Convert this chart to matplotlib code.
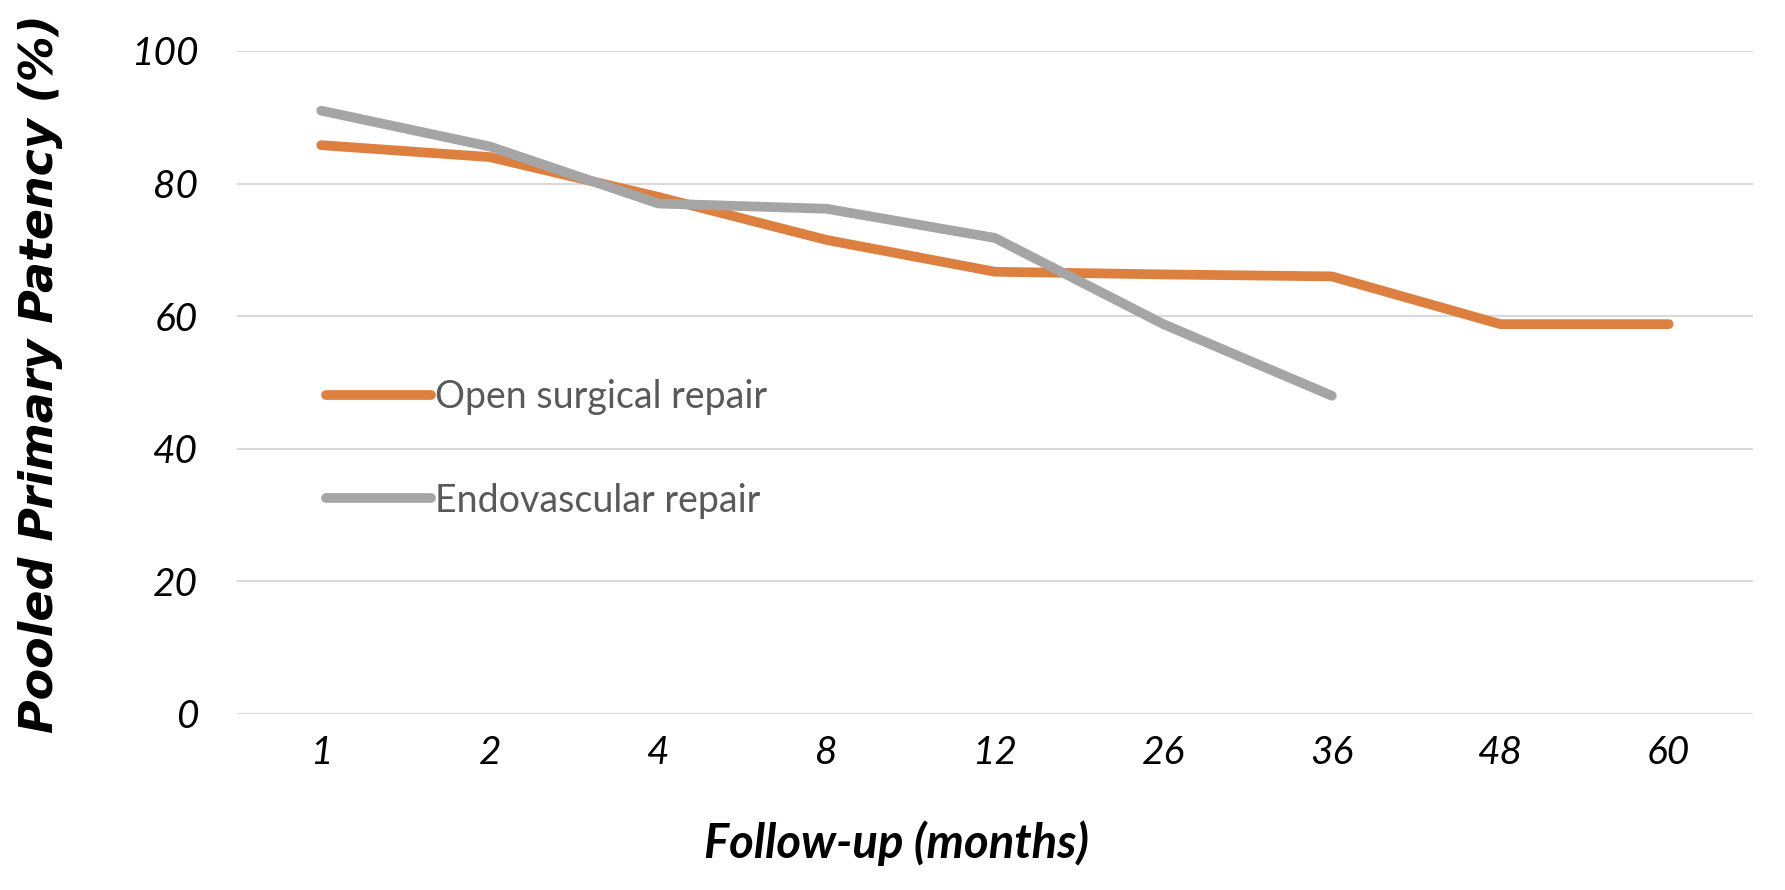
import numpy as np
import matplotlib.pyplot as plt

# Data
months = ['1', '2', '4', '8', '12', '26', '36', '48', '60']
open_repair = [85.8, 84.0, 78.0, 71.5, 66.7, 66.3, 66.0, 58.8, 58.8]
endo_repair = [91.0, 85.6, 77.0, 76.2, 71.8, 58.8, 48.0, np.nan, np.nan]
yticks = [0, 20, 40, 60, 80, 100]

orange = '#DC7F3F'
grey = '#A5A5A5'
narrow = ['Lato', 'DejaVu Sans']

fig = plt.figure(figsize=(17.85, 8.9), dpi=100)
ax = fig.add_axes([0.1328, 0.1978, 0.8492, 0.7449])

x = np.arange(len(months))
ax.plot(x, open_repair, color=orange, lw=7, solid_capstyle='round',
        solid_joinstyle='round', label='Open surgical repair')
ax.plot(x, endo_repair, color=grey, lw=7, solid_capstyle='round',
        solid_joinstyle='round', label='Endovascular repair')

ax.set_xlim(-0.5, len(months) - 0.5)
ax.set_ylim(0, 100)
ax.set_xticks(x)
ax.set_xticklabels(months, fontstyle='italic', family=narrow, fontsize=28)
ax.set_yticks(yticks)
ax.set_yticklabels([str(v) for v in yticks], fontstyle='italic', family=narrow, fontsize=28)
ax.tick_params(axis='x', length=0, pad=15)
ax.tick_params(axis='y', length=0, pad=28)

ax.grid(axis='y', color='#D9D9D9', lw=1.5)
ax.set_axisbelow(True)
for s in ax.spines.values():
    s.set_visible(False)

ax.set_xlabel('Follow-up (months)', fontsize=34, fontweight='bold',
              fontstyle='italic', family=narrow)
ax.xaxis.set_label_coords(0.435, -0.16)
ax.set_ylabel('Pooled Primary Patency (%)', fontsize=33, fontweight='bold',
              fontstyle='italic', family='DejaVu Sans')
ax.yaxis.set_label_coords(-0.115, 0.514)

leg = ax.legend(loc='center left', bbox_to_anchor=(0.059, 0.40), frameon=False,
                handlelength=2.8, handletextpad=0.1,
                labelspacing=1.8, borderpad=0, borderaxespad=0,
                prop={'family': narrow, 'size': 27})
for t in leg.get_texts():
    t.set_color('#595959')

fig.savefig('out.png', dpi=100)
